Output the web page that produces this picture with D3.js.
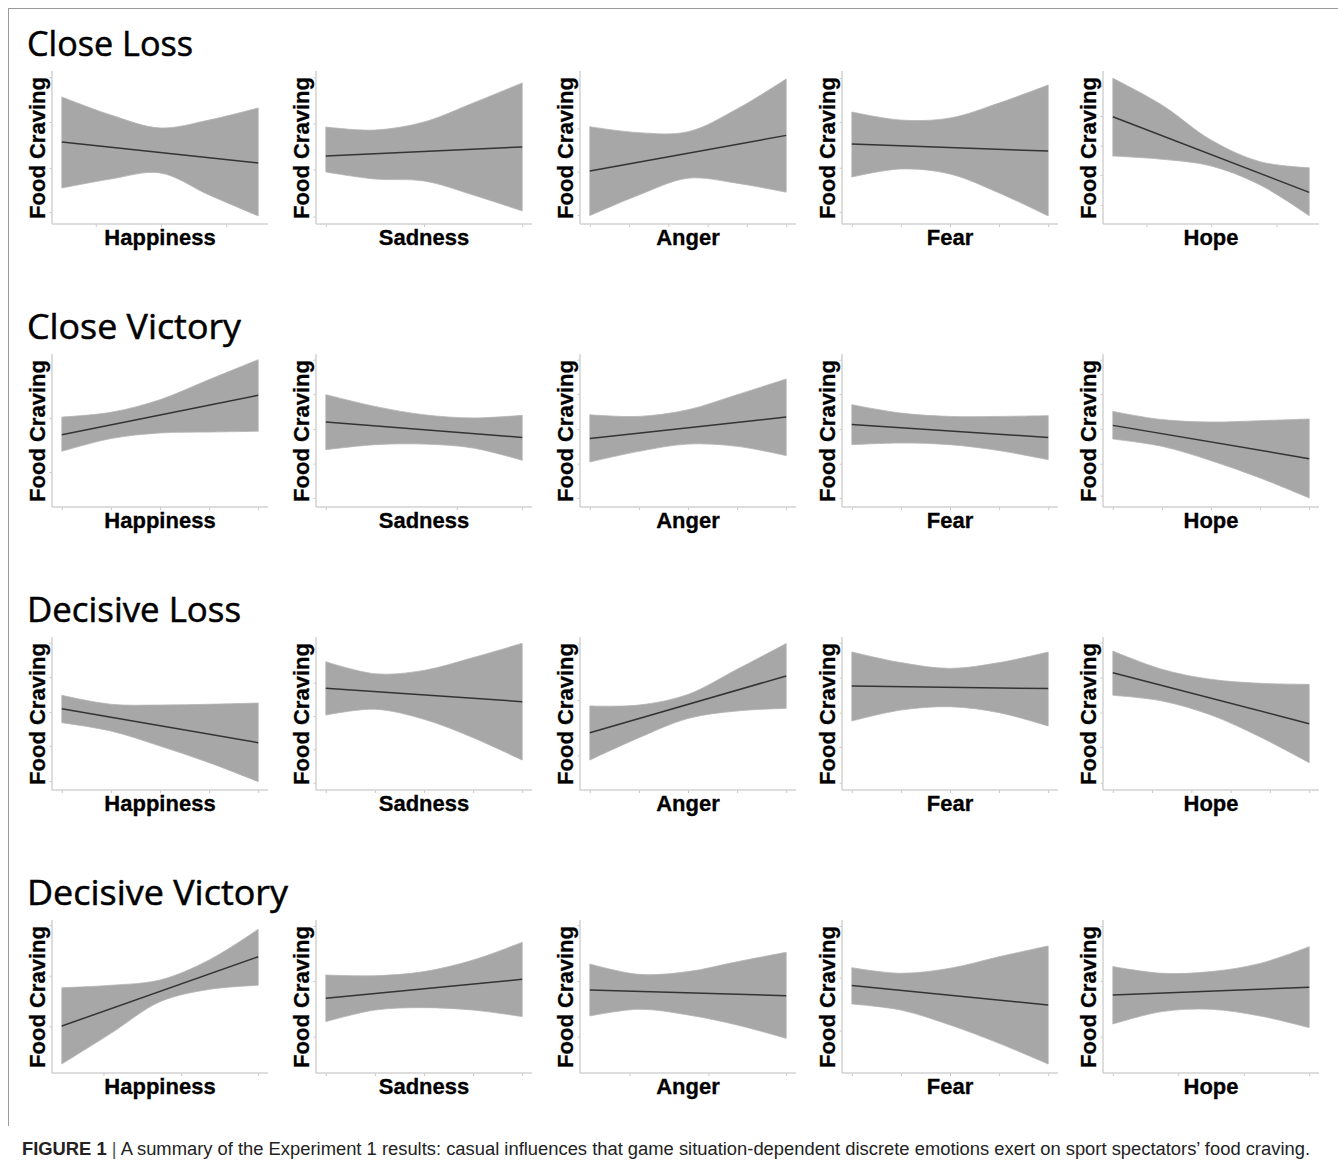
<!DOCTYPE html>
<html>
<head>
<meta charset="utf-8">
<script src="https://cdn.jsdelivr.net/npm/d3@7"></script>
<style>
  html, body { margin: 0; padding: 0; background: #fff; }
  svg { display: block; }
</style>
</head>
<body>
<svg id="chart" width="1338" height="1163"></svg>
<script>
// ---------------- DATA ----------------
const situations = ["Close Loss", "Close Victory", "Decisive Loss", "Decisive Victory"];
const emotions = ["Happiness", "Sadness", "Anger", "Fear", "Hope"];
const yLabel = "Food Craving";
// relative positions along each emotion's observed range where band values were read
const samplePos = [0, 0.25, 0.5, 0.75, 1];

// band values (y, as % of each panel's axis height), one row per emotion
const closeLossUpper = [
  [83.6, 71.7, 63.2, 68.4, 76.3],
  [63.8, 61.8, 67.1, 79.6, 92.8],
  [64.0, 60.1, 60.7, 75.7, 95.4],
  [73.7, 68.4, 69.7, 79.6, 91.4],
  [95.9, 78.3, 55.3, 41.0, 37.0]
];
const closeLossLower = [
  [23.7, 29.6, 33.6, 19.1, 5.3],
  [34.2, 29.6, 28.3, 19.1, 8.6],
  [5.5, 19.1, 30.1, 26.8, 20.9],
  [30.9, 36.2, 32.9, 20.4, 5.3],
  [44.7, 42.6, 38.2, 25.7, 5.5]
];
const closeLossFit = [[53.9, 40.1], [44.7, 50.7], [34.9, 58.3], [52.6, 48.0], [70.6, 20.8]];

const closeVictoryUpper = [
  [59.2, 62.3, 70.6, 83.8, 96.9],
  [73.9, 66.2, 60.7, 58.6, 60.3],
  [60.7, 59.6, 64.0, 73.9, 84.2],
  [67.3, 61.8, 59.6, 59.6, 60.1],
  [62.9, 57.5, 55.9, 56.8, 57.9]
];
const closeVictoryLower = [
  [36.6, 45.0, 48.7, 49.3, 49.8],
  [37.7, 41.0, 41.4, 38.8, 30.7],
  [29.6, 36.6, 41.4, 39.9, 33.8],
  [41.0, 42.1, 41.0, 37.1, 31.1],
  [44.7, 39.9, 30.5, 19.1, 5.9]
];
const closeVictoryFit = [[47.6, 73.5], [55.9, 45.8], [45.0, 59.2], [54.2, 45.8], [53.7, 31.8]];

const decisiveLossUpper = [
  [62.3, 56.4, 55.9, 56.4, 57.2],
  [84.4, 76.5, 78.7, 87.1, 96.5],
  [55.3, 55.9, 62.9, 79.4, 96.3],
  [90.8, 83.8, 80.0, 83.8, 90.8],
  [91.4, 79.4, 72.8, 70.2, 69.5]
];
const decisiveLossLower = [
  [44.3, 38.8, 28.9, 18.0, 5.5],
  [49.3, 53.1, 46.5, 34.4, 19.7],
  [19.7, 34.4, 47.1, 52.0, 53.7],
  [45.4, 52.6, 54.8, 50.9, 42.1],
  [62.3, 58.6, 49.3, 34.9, 18.0]
];
const decisiveLossFit = [[53.5, 31.1], [66.9, 58.1], [37.7, 75.0], [68.4, 66.7], [77.2, 43.6]];

const decisiveVictoryUpper = [
  [56.1, 57.7, 61.2, 74.3, 94.5],
  [64.5, 64.0, 66.7, 74.3, 86.0],
  [71.7, 64.9, 66.7, 73.2, 79.4],
  [69.3, 65.6, 68.9, 76.5, 83.6],
  [70.0, 65.6, 66.7, 72.1, 83.1]
];
const decisiveVictoryLower = [
  [5.9, 26.1, 46.9, 55.0, 57.7],
  [33.8, 41.4, 43.0, 41.4, 37.1],
  [37.5, 41.9, 38.2, 31.6, 22.8],
  [45.4, 41.4, 31.6, 19.5, 5.9],
  [32.2, 40.4, 41.9, 37.5, 29.8]
];
const decisiveVictoryFit = [[30.9, 76.5], [49.1, 61.6], [54.6, 50.9], [57.5, 44.7], [51.3, 56.4]];

// tick positions (labels are illegible in the source)
const yTicks = [
  [[96.7, 67.1, 36.8, 7.9], [96.5, 66.2, 35.9, 4.8], [91.4, 62.9, 34.4, 5.9], [96, 67, 37, 8], [90.8, 71.1, 51.5, 32.2, 12.5]],
  [[94.1, 58.6, 23.0], [96.9, 74.3, 51.3, 28.5, 5.9], [96.9, 74.3, 51.3, 28.5, 5.9], [96.9, 74.3, 51.3, 28.5, 5.9], [96.9, 74.3, 51.3, 28.5, 7.5]],
  [[96.9, 74.3, 51.3, 28.9, 5.9], [93.0, 70.6, 48.7, 26.8, 4.8], [96.3, 59.2, 22.8], [96.9, 73.9, 50.9, 28.3, 4.8], [96.9, 73.9, 50.9, 28.3, 4.8]],
  [[97.4, 64.0, 30.7], [96.7, 60.5, 23.9], [97.4, 60.5, 23.9], [96.7, 62.7, 27.9], [96.7, 60.5, 23.9]]
];
const xTicks = [
  [[0.173, 0.505, 0.837], [0, 0.5, 1], [0, 0.2, 0.4, 0.6, 0.8, 1], [0, 0.25, 0.5, 0.75, 1], [0.171, 0.501, 0.834]],
  [[0, 0.25, 0.5, 0.75, 1], [0, 0.667, 1], [0, 0.25, 0.5, 0.75, 1], [0, 0.25, 0.5, 0.75, 1], [0, 0.25, 0.5, 0.75, 1]],
  [[0, 0.25, 0.5, 0.75, 1], [0, 0.25, 0.5, 0.75, 1], [0, 0.25, 0.5, 0.75, 1], [0, 0.25, 0.5, 0.75, 1], [0, 0.2, 0.4, 0.6, 0.8, 1]],
  [[0.212, 0.608, 1], [0, 0.25, 0.5, 0.75, 1], [0.202, 0.604, 1], [0, 0.25, 0.5, 0.75, 1], [0, 0.333, 0.667, 1]]
];

const caption = "A summary of the Experiment 1 results: casual influences that game situation-dependent discrete emotions exert on sport spectators\u2019 food craving.";

// ---------------- LAYOUT ----------------
const uppers = [closeLossUpper, closeVictoryUpper, decisiveLossUpper, decisiveVictoryUpper];
const lowers = [closeLossLower, closeVictoryLower, decisiveLossLower, decisiveVictoryLower];
const fits = [closeLossFit, closeVictoryFit, decisiveLossFit, decisiveVictoryFit];

const colX = [52, 316, 580, 842, 1103];
const titleWidths = [166, 214, 214, 261];
const plotW = 216, plotTop = 72, plotBottom = 224, rowStep = 283;

const svg = d3.select("#chart");
svg.append("rect").attr("width", 1338).attr("height", 1163).attr("fill", "#fff");

// frame
svg.append("line").attr("x1", 8.5).attr("x2", 8.5).attr("y1", 8).attr("y2", 1126)
  .attr("stroke", "#9a9a9a").attr("stroke-width", 1);
svg.append("line").attr("x1", 8).attr("x2", 1338).attr("y1", 8.5).attr("y2", 8.5)
  .attr("stroke", "#9a9a9a").attr("stroke-width", 1);

situations.forEach((sit, r) => {
  const off = r * rowStep;
  svg.append("text")
    .attr("x", 27).attr("y", 56 + off)
    .attr("font-family", "'Open Sans', 'Noto Sans', sans-serif")
    .attr("font-size", 34)
    .attr("fill", "#000").attr("stroke", "#000").attr("stroke-width", 0.5)
    .attr("textLength", titleWidths[r]).attr("lengthAdjust", "spacingAndGlyphs")
    .text(sit);

  emotions.forEach((emo, c) => {
    const x0 = colX[c];
    const x = d3.scaleLinear().domain([-0.05, 1.05]).range([x0, x0 + plotW]);
    const y = d3.scaleLinear().domain([0, 100]).range([plotBottom + off, plotTop + off]);
    const g = svg.append("g");

    const pts = samplePos.map((t, i) => ({ t, up: uppers[r][c][i], lo: lowers[r][c][i] }));
    const area = d3.area()
      .x(d => x(d.t)).y0(d => y(d.lo)).y1(d => y(d.up))
      .curve(d3.curveCatmullRom.alpha(0.5));
    g.append("path").datum(pts).attr("d", area)
      .attr("fill", "#a7a7a7").attr("stroke", "#b4b4b4").attr("stroke-width", 0.8);

    const fitPts = [{ t: 0, v: fits[r][c][0] }, { t: 1, v: fits[r][c][1] }];
    g.append("path").datum(fitPts)
      .attr("d", d3.line().x(d => x(d.t)).y(d => y(d.v)))
      .attr("fill", "none").attr("stroke", "#333").attr("stroke-width", 1.5);

    // axes
    const yAxis = d3.axisLeft(y).tickValues(yTicks[r][c]).tickSize(2.5).tickFormat("");
    const ya = g.append("g").attr("transform", `translate(${x0},0)`).call(yAxis);
    const xAxis = d3.axisBottom(x).tickValues(xTicks[r][c]).tickSize(3).tickFormat("");
    const xa = g.append("g").attr("transform", `translate(0,${plotBottom + off})`).call(xAxis);
    [ya, xa].forEach(a => {
      a.select(".domain").remove();
      a.selectAll(".tick line").attr("stroke", "#c8c8c8").attr("stroke-width", 1);
    });
    g.append("line").attr("x1", x0).attr("x2", x0).attr("y1", plotTop + off - 1).attr("y2", plotBottom + off)
      .attr("stroke", "#d2d2d2").attr("stroke-width", 1.5);
    g.append("line").attr("x1", x0).attr("x2", x0 + plotW).attr("y1", plotBottom + off).attr("y2", plotBottom + off)
      .attr("stroke", "#d2d2d2").attr("stroke-width", 1.5);

    // labels
    g.append("text")
      .attr("transform", `translate(${x0 - 7},${(plotTop + plotBottom) / 2 + off}) rotate(-90)`)
      .attr("text-anchor", "middle")
      .attr("font-family", "'Liberation Sans', Arial, sans-serif")
      .attr("font-weight", "bold").attr("font-size", 22).attr("fill", "#000")
      .attr("stroke", "#000").attr("stroke-width", 0.3)
      .text(yLabel);
    g.append("text")
      .attr("x", x0 + plotW / 2).attr("y", 245 + off)
      .attr("text-anchor", "middle")
      .attr("font-family", "'Liberation Sans', Arial, sans-serif")
      .attr("font-weight", "bold").attr("font-size", 22).attr("fill", "#000")
      .attr("stroke", "#000").attr("stroke-width", 0.3)
      .text(emo);
  });
});

// caption
const cap = svg.append("text")
  .attr("x", 22).attr("y", 1155)
  .attr("font-family", "'Liberation Sans', Arial, sans-serif")
  .attr("font-size", 18).attr("fill", "#222")
  .attr("textLength", 1288).attr("lengthAdjust", "spacingAndGlyphs");
cap.append("tspan").attr("font-weight", "bold").text("FIGURE 1");
cap.append("tspan").attr("fill", "#555").text("  |  ");
cap.append("tspan").text(caption);
</script>
</body>
</html>
